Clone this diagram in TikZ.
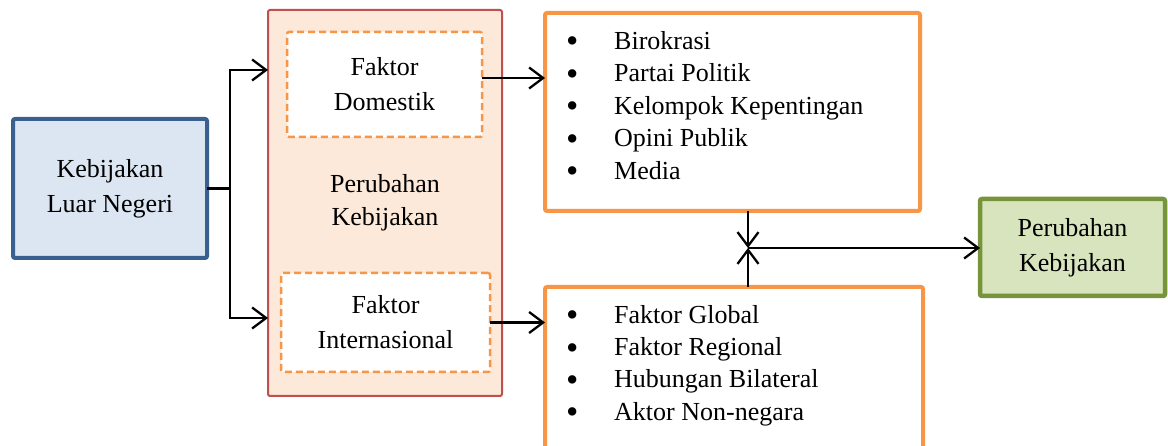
\documentclass[tikz,border=0pt]{standalone}
\usepackage{fontspec}
\setmainfont{Liberation Serif}
\usetikzlibrary{arrows.meta}
\definecolor{bluestroke}{HTML}{3A6090}
\definecolor{bluefill}{HTML}{DCE6F2}
\definecolor{redstroke}{HTML}{C0504D}
\definecolor{redfill}{HTML}{FDE9D9}
\definecolor{orng}{HTML}{F79646}
\definecolor{greenstroke}{HTML}{77933C}
\definecolor{greenfill}{HTML}{D7E4BD}
\tikzset{
  txt/.style={font=\fontsize{26}{35}\selectfont, align=center, inner sep=0pt},
  box/.style={draw, rounded corners=2pt, outer sep=0pt, inner sep=0pt, txt},
  dbox/.style={box, draw=orng, line width=2.5pt, dash pattern=on 7pt off 4pt, fill=white},
  lbox/.style={box, draw=orng, line width=4pt, fill=white},
  listtxt/.style={font=\fontsize{26}{32.4}\selectfont, align=left, inner sep=0pt, anchor=west},
  con/.style={line width=2.3pt, black},
  arr/.style={con, -{Straight Barb[length=14pt,width=21pt,line width=2.3pt]}},
}
\newcommand{\bl}{\makebox[48pt][l]{\raisebox{-3.5pt}{\scalebox{1.35}{•}}}}
\begin{document}
\begin{tikzpicture}[x=1pt,y=-1pt]
\useasboundingbox (0,0) rectangle (1168,446);
\clip (0,0) rectangle (1168,446);
% left box
\node[box, draw=bluestroke, fill=bluefill, line width=4pt, minimum width=194pt, minimum height=139pt] (lb) at (110,188.5) {Kebijakan\\Luar Negeri};
% red box
\node[box, draw=redstroke, fill=redfill, line width=2pt, minimum width=234pt, minimum height=386pt] (rb) at (385,203) {};
\node[txt, font=\fontsize{26}{33}\selectfont] (pk) at (385,203) {Perubahan\\Kebijakan};
\node[dbox, minimum width=195pt, minimum height=105pt] (dom) at (384.5,84.5) {Faktor\\Domestik};
\node[dbox, minimum width=209pt, minimum height=99pt] (intl) at (385.5,322.5) {Faktor\\Internasional};
% list boxes
\node[lbox, minimum width=375pt, minimum height=198pt] (tl) at (732.5,112) {};
\node[listtxt] (tlt) at (566,107) {\bl Birokrasi\\\bl Partai Politik\\\bl Kelompok Kepentingan\\\bl Opini Publik\\\bl Media};
\node[lbox, minimum width=378pt, minimum height=183pt] (bb) at (734,378.5) {};
\node[listtxt] (bbt) at (566,365.5) {\bl Faktor Global\\\bl Faktor Regional\\\bl Hubungan Bilateral\\\bl Aktor Non-negara};
% green box
\node[box, draw=greenstroke, fill=greenfill, line width=4.5pt, minimum width=185pt, minimum height=97pt] (gb) at (1072.5,247.5) {Perubahan\\Kebijakan};
% connectors
\coordinate (j1) at (230,188.5);
\coordinate (u1) at (230,70);
\coordinate (d1) at (230,318);
\draw[con] (lb.east) -- (j1);
\draw[arr] (j1) -- (u1) -- (rb.west |- u1);
\draw[arr] (j1) -- (d1) -- (rb.west |- d1);
\coordinate (a1) at (0,78);
\draw[arr] (dom.east |- a1) -- (tl.west |- a1);
\draw[arr] (intl.east) -- (bb.west |- intl.east);
\coordinate (J) at (748,248);
\draw[arr] (tl.south -| J) -- (J);
\draw[arr] (bb.north -| J) -- (J);
\draw[arr] (J) -- (gb.west |- J);
\end{tikzpicture}
\end{document}
